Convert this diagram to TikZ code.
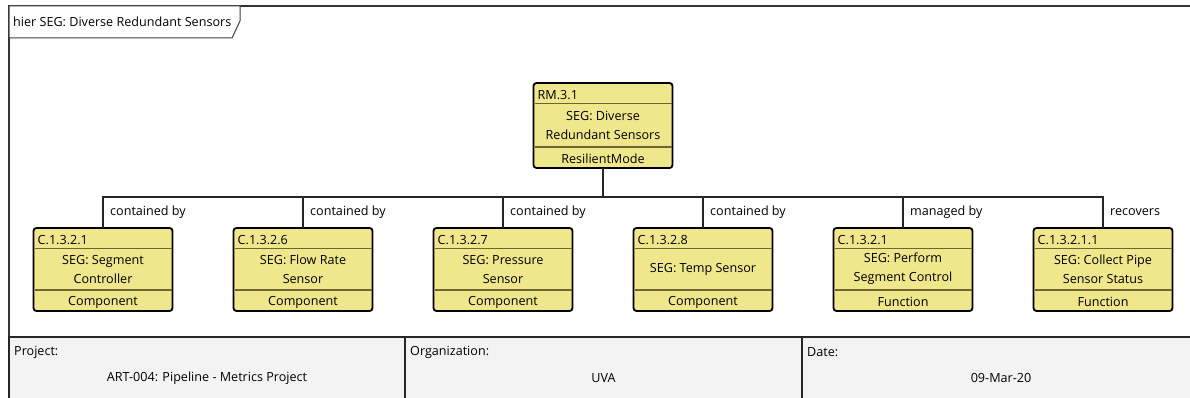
\documentclass[tikz,border=0pt]{standalone}
\usepackage{fontspec}
\setmainfont{Open Sans}
\usetikzlibrary{calc}
\definecolor{entfill}{RGB}{240,230,140}
\definecolor{entsep}{RGB}{110,100,50}
\definecolor{cellfill}{RGB}{243,243,243}
\tikzset{
  entbox/.style={draw=black, line width=1.8pt, rounded corners=3pt, fill=entfill, minimum width=139pt, inner sep=0pt, outer sep=0pt, anchor=north west},
  sepline/.style={draw=entsep, line width=1.3pt},
  lbl/.style={font=\fontsize{12.6}{15}\selectfont, inner sep=0pt, text=black},
  conn/.style={draw=black!85, line width=1.1pt},
  frameline/.style={draw=black!80, line width=1.5pt},
  cellbox/.style={draw=black!85, line width=1.8pt, fill=cellfill},
}
\newcommand{\entity}[7]{%
  \node[entbox, minimum height=#7pt] (#1) at (#2,#3) {};
  \draw[sepline] ([xshift=1pt,yshift=-20.5pt]#1.north west) -- ([xshift=-1pt,yshift=-20.5pt]#1.north east);
  \draw[sepline] ([xshift=1pt,yshift=21pt]#1.south west) -- ([xshift=-1pt,yshift=21pt]#1.south east);
  \node[lbl, anchor=west] (#1-id) at ([xshift=4pt,yshift=-12.5pt]#1.north west) {#4};
  \node[lbl, align=center] (#1-name) at ($(#1.north)!0.5!(#1.south)+(0,-0.5)$) {#5};
  \node[lbl] (#1-type) at ([yshift=9pt]#1.south) {#6};
}
\begin{document}
\begin{tikzpicture}[x=1pt,y=-1pt]
\useasboundingbox (0,0) rectangle (1190,398);
% outer frame
\draw[frameline] (9,420) -- (9,6) -- (1200,6);
% tab
\path[draw=black!75, line width=1pt, fill=white] (9,6) -- (240,6) -- (240,21) -- (232,38) -- (9,38) -- cycle;
\node[lbl, anchor=west] (tab) at (13,22) {hier SEG: Diverse Redundant Sensors};
% entities
\entity{rm}{533.5}{83}{RM.3.1}{SEG: Diverse\\[4pt]Redundant Sensors}{ResilientMode}{85}
\entity{c1}{33.5}{228}{C.1.3.2.1}{SEG: Segment\\[4pt]Controller}{Component}{83}
\entity{c2}{233.5}{228}{C.1.3.2.6}{SEG: Flow Rate\\[4pt]Sensor}{Component}{83}
\entity{c3}{433.5}{228}{C.1.3.2.7}{SEG: Pressure\\[4pt]Sensor}{Component}{83}
\entity{c4}{633.5}{228}{C.1.3.2.8}{SEG: Temp Sensor}{Component}{83}
\entity{c5}{833.5}{228}{C.1.3.2.1}{SEG: Perform\\[4pt]Segment Control}{Function}{83}
\entity{c6}{1033.5}{228}{C.1.3.2.1.1}{SEG: Collect Pipe\\[4pt]Sensor Status}{Function}{83}
% connectors
\coordinate (busy) at (0,197);
\coordinate (bus) at (rm.south |- busy);
\draw[conn, line width=1.6pt] (rm.south) -- (bus);
\foreach \c/\t in {c1/contained by, c2/contained by, c3/contained by, c4/contained by, c5/managed by, c6/recovers}{
  \draw[conn] (bus) -| (\c.north);
  \node[lbl, anchor=west] (\c-rel) at ([xshift=7pt,yshift=16pt]\c.north) {\t};
}
% title block
\draw[cellbox] (9,337) rectangle (405,420);
\draw[cellbox] (405,337) rectangle (802,420);
\draw[cellbox] (802,337) rectangle (1200,420);
\node[lbl, anchor=west] (pl) at (14,352) {Project:};
\node[lbl] (pv) at (207,378) {ART-004: Pipeline - Metrics Project};
\node[lbl, anchor=west] (ol) at (410,352) {Organization:};
\node[lbl] (ov) at (603.5,378) {UVA};
\node[lbl, anchor=west] (dl) at (807,352) {Date:};
\node[lbl] (dv) at (1001,378) {09-Mar-20};
\end{tikzpicture}
\end{document}
